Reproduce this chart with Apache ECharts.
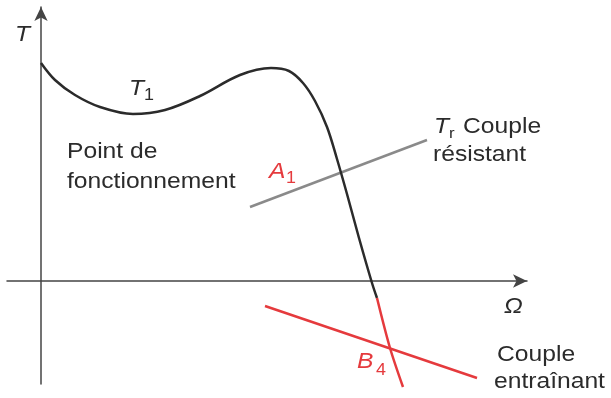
<!DOCTYPE html>
<html>
<head>
<meta charset="utf-8">
<script src="https://cdn.jsdelivr.net/npm/echarts@6/dist/echarts.min.js"></script>
<style>
  html, body { margin: 0; padding: 0; background: #fff; }
  #chart { width: 611px; height: 398px; }
</style>
</head>
<body>
<div id="chart"></div>
<script>
// courbe du moteur T1 (partie au-dessus de l'axe, puis partie rouge)
var motorCurve = [[0, 218], [14, 201], [34, 186], [59, 174], [92, 167], [124, 171], [159, 185],
    [199, 206], [230, 213], [248, 210], [262, 198], [274, 180], [286, 154], [296, 122],
    [306, 87], [318, 43], [331, -2], [336, -17]];
var motorCurveLow = [[336, -17], [349, -67], [362, -106]];
// couple résistant Tr et couple entraînant
var resistLine = [[209, 74], [386, 141]];
var driveLine = [[224, -25], [436, -97]];

var chart = echarts.init(document.getElementById('chart'));

var dark = '#2b2b2b';
var red = '#e53a3d';

function txt(x, y, s, opt) {
    opt = opt || {};
    return {
        type: 'text',
        x: x,
        y: y,
        scaleX: opt.sx || 1.12,
        style: {
            text: s,
            font: (opt.italic ? 'italic ' : '') + (opt.size || 22) + 'px "Liberation Sans", Arial, sans-serif',
            fill: opt.color || dark,
            align: 'left',
            verticalAlign: 'middle'
        }
    };
}

var option = {
    backgroundColor: '#ffffff',
    animation: false,
    grid: { left: 7, right: 84, top: 7, bottom: 14 },
    xAxis: {
        type: 'value',
        min: -34,
        max: 486,
        axisLine: {
            show: true,
            onZero: true,
            symbol: ['none', 'arrow'],
            symbolSize: [10, 14],
            lineStyle: { color: '#444', width: 1.5 }
        },
        axisTick: { show: false },
        axisLabel: { show: false },
        splitLine: { show: false }
    },
    yAxis: {
        type: 'value',
        min: -103,
        max: 274,
        axisLine: {
            show: true,
            onZero: true,
            symbol: ['none', 'arrow'],
            symbolSize: [10, 14],
            lineStyle: { color: '#444', width: 1.5 }
        },
        axisTick: { show: false },
        axisLabel: { show: false },
        splitLine: { show: false }
    },
    series: [
        {
            type: 'line',
            data: resistLine,
            showSymbol: false,
            lineStyle: { color: '#8a8a8a', width: 2.5 }
        },
        {
            type: 'line',
            data: driveLine,
            showSymbol: false,
            clip: false,
            lineStyle: { color: red, width: 2.5 }
        },
        {
            type: 'line',
            data: motorCurve,
            smooth: 0.35,
            showSymbol: false,
            lineStyle: { color: dark, width: 2.5 }
        },
        {
            type: 'line',
            data: motorCurveLow,
            smooth: 0.3,
            showSymbol: false,
            clip: false,
            lineStyle: { color: red, width: 2.5 }
        }
    ],
    graphic: [
        txt(15, 35, 'T', { italic: true }),
        txt(129, 89, 'T', { italic: true }),
        txt(144, 96, '1', { size: 16 }),
        txt(67, 152, 'Point de'),
        txt(67, 182, 'fonctionnement'),
        txt(269, 172, 'A', { italic: true, color: red }),
        txt(286, 179, '1', { size: 16, color: red }),
        txt(434, 127, 'T', { italic: true }),
        txt(449, 134, 'r', { size: 15 }),
        txt(463, 127, 'Couple'),
        txt(433, 155, 'résistant'),
        txt(504, 307, 'Ω', { italic: true }),
        txt(357, 362, 'B', { italic: true, color: red }),
        txt(376, 371, '4', { size: 16, color: red }),
        txt(497, 355, 'Couple'),
        txt(494, 382, 'entraînant')
    ]
};

chart.setOption(option);
</script>
</body>
</html>
